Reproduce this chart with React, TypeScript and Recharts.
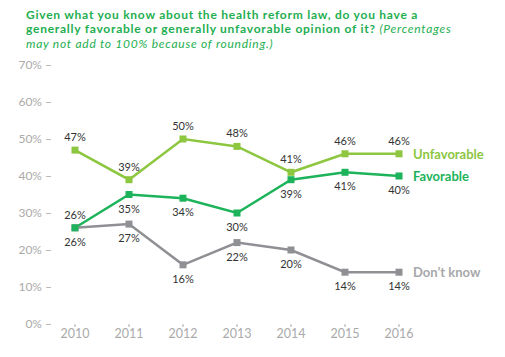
import { LineChart, Line, XAxis, YAxis, LabelList } from "recharts";

const years = ["2010", "2011", "2012", "2013", "2014", "2015", "2016"];
const unfavorable = [47, 39, 50, 48, 41, 46, 46];
const favorable = [26, 35, 34, 30, 39, 41, 40];
const dontKnow = [26, 27, 16, 22, 20, 14, 14];
const yTicks = [0, 10, 20, 30, 40, 50, 60, 70];

const data = years.map((year, i) => ({
  year,
  unfavorable: unfavorable[i],
  favorable: favorable[i],
  dontKnow: dontKnow[i],
}));

const FONT = "Lato, 'Open Sans', sans-serif";

const SquareDot = (color: string) => (props: any) => {
  const { cx, cy, index } = props;
  if (cx == null || cy == null) return <g key={index} />;
  return <rect key={index} x={cx - 3.5} y={cy - 3.5} width={7} height={7} fill={color} />;
};

// value labels above or below the point; series name after the last point
const makeLabel = (name: string, color: string, above: (i: number) => boolean) => (props: any) => {
  const { x, y, value, index } = props;
  const up = above(index);
  return (
    <g key={index}>
      <text x={x} y={up ? y - 9 : y + 18} textAnchor="middle" fontSize={11} fill="#333" fontFamily={FONT}>
        {value}%
      </text>
      {index === years.length - 1 && (
        <text x={x + 14} y={y + 5} fontSize={13} fontWeight="bold" fill={color} fontFamily={FONT}>
          {name}
        </text>
      )}
    </g>
  );
};

const italic = { fontStyle: "italic", fontWeight: "normal" } as const;

export default function App() {
  return (
    <div style={{ position: "absolute", left: 0, top: 0, width: 505, height: 357, background: "#fff" }}>
      <svg width={505} height={52} style={{ position: "absolute", left: 0, top: 0 }}>
        <g fontFamily={FONT} fontSize={12} fill="#23ae4f" fontWeight="bold" letterSpacing={0.75}>
          <text x={26} y={18.8}>Given what you know about the health reform law, do you have a</text>
          <text x={26} y={33.3}>
            generally favorable or generally unfavorable opinion of it?{" "}
            <tspan {...italic}>(Percentages</tspan>
          </text>
          <text x={26} y={47.8} {...italic}>may not add to 100% because of rounding.)</text>
        </g>
      </svg>
      <LineChart width={505} height={357} data={data} margin={{ top: 65, right: 106, bottom: 0, left: 0 }}>
        <XAxis
          dataKey="year"
          axisLine={false}
          tickSize={3}
          tickLine={{ stroke: "#aaa" }}
          tick={{ fill: "#aaa", fontSize: 12.5, fontFamily: FONT }}
          padding={{ left: 15, right: 0 }}
          height={33}
        />
        <YAxis
          domain={[0, 70]}
          ticks={yTicks}
          axisLine={false}
          tickLine={false}
          width={60}
          tick={{ fill: "#aaa", fontSize: 12, fontFamily: FONT }}
          tickFormatter={(v: number) => `${v}% –`}
        />
        <Line
          dataKey="dontKnow"
          stroke="#8f9094"
          strokeWidth={2.5}
          dot={SquareDot("#8f9094")}
          isAnimationActive={false}
        >
          <LabelList dataKey="dontKnow" content={makeLabel("Don’t know", "#a7a8aa", () => false)} />
        </Line>
        <Line
          dataKey="unfavorable"
          stroke="#8dc63f"
          strokeWidth={2.5}
          dot={SquareDot("#8dc63f")}
          isAnimationActive={false}
        >
          <LabelList dataKey="unfavorable" content={makeLabel("Unfavorable", "#8dc63f", () => true)} />
        </Line>
        <Line
          dataKey="favorable"
          stroke="#1db35a"
          strokeWidth={2.5}
          dot={SquareDot("#1db35a")}
          isAnimationActive={false}
        >
          <LabelList dataKey="favorable" content={makeLabel("Favorable", "#1db35a", (i) => i === 0)} />
        </Line>
      </LineChart>
    </div>
  );
}
